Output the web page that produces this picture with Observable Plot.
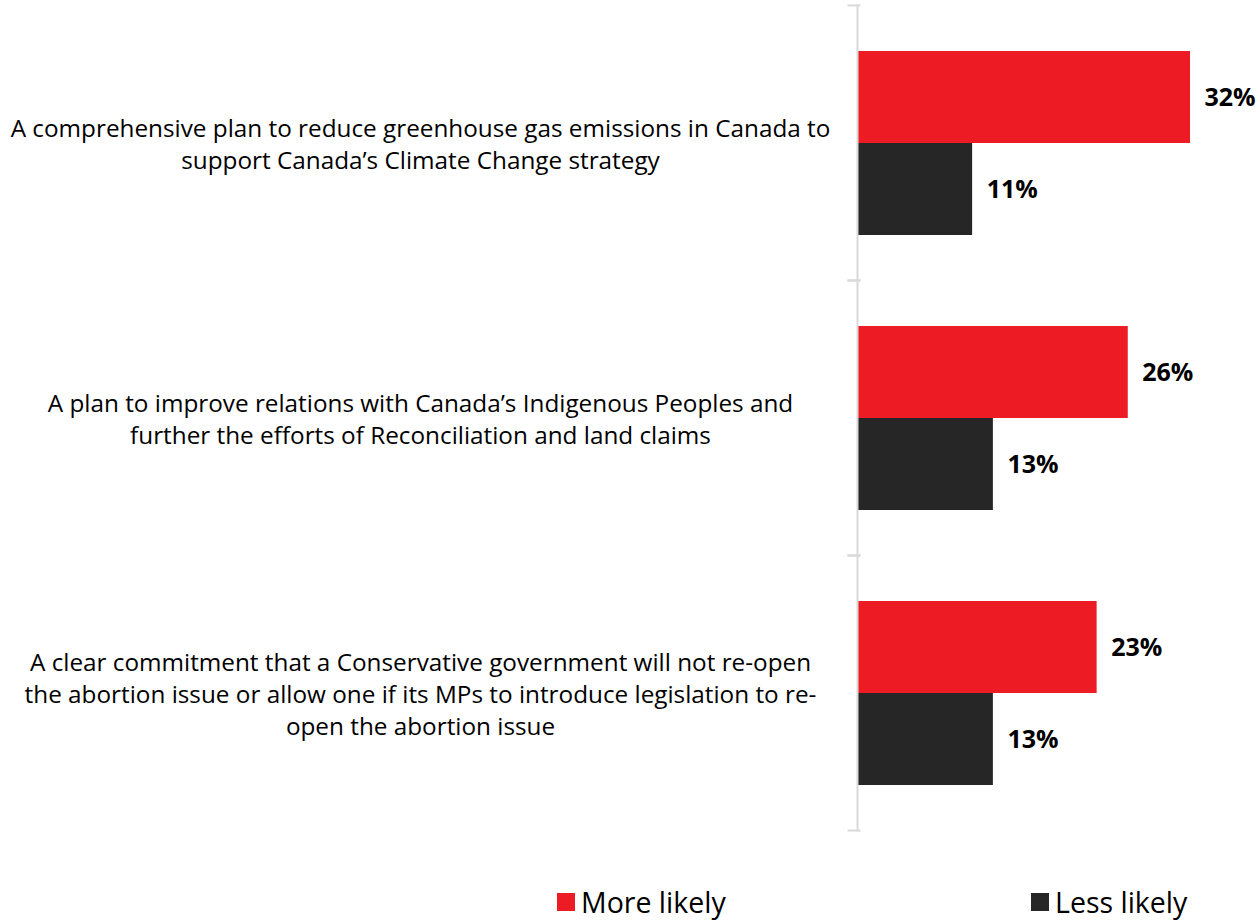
<!DOCTYPE html>
<html><head><meta charset="utf-8">
<script src="https://cdn.jsdelivr.net/npm/d3@7"></script>
<script src="https://cdn.jsdelivr.net/npm/@observablehq/plot@0.6"></script>
<style>
body{margin:0;background:#fff;font-family:"Open Sans",sans-serif;}
#legend{position:relative;width:1259px;height:71px;}
.item{position:absolute;top:33px;display:flex;align-items:center;font-size:28.5px;color:#000;}
.sw{width:18px;height:18px;margin-right:6px;}
</style></head><body>
<div id="chart"></div>
<div id="legend"></div>
<script>
const categories = [
  "A comprehensive plan to reduce greenhouse gas emissions in Canada to\nsupport Canada’s Climate Change strategy",
  "A plan to improve relations with Canada’s Indigenous Peoples and\nfurther the efforts of Reconciliation and land claims",
  "A clear commitment that a Conservative government will not re-open\nthe abortion issue or allow one if its MPs to introduce legislation to re-\nopen the abortion issue"
];
const series = ["More likely", "Less likely"];
const moreLikely = [32, 26, 23];
const lessLikely = [11, 13, 13];
const colors = ["#ED1C24", "#262626"];

const data = categories.flatMap((c, i) => [
  {category: c, series: series[0], value: moreLikely[i]},
  {category: c, series: series[1], value: lessLikely[i]}
]);

const chart = Plot.plot({
  width: 1259, height: 850,
  marginLeft: 858, marginRight: 0, marginTop: 5, marginBottom: 20,
  style: {fontFamily: "'Open Sans', sans-serif", fontSize: "22px", color: "#000", background: "#fff", overflow: "visible"},
  x: {domain: [0, 38.65], axis: null},
  fy: {domain: categories, padding: 0, axis: null},
  y: {domain: series, axis: null, paddingInner: 0, paddingOuter: 0.486},
  color: {domain: series, range: colors},
  marks: [
    Plot.barX(data, {fy: "category", y: "series", x: "value", fill: "series"}),
    Plot.text(data, {fy: "category", y: "series", x: "value", text: d => d.value + "%", textAnchor: "start", dx: 14, fontWeight: "bold", fontSize: 25, fill: "#000"}),
    Plot.text(categories, {fy: d => d, frameAnchor: "left", dx: -438, text: d => d, textAnchor: "middle", lineHeight: 1.32, fontSize: 24.3, fill: "#000"}),
    Plot.frame({anchor: "left", stroke: "#D9D9D9", strokeWidth: 2, insetLeft: -1}),
    Plot.frame({anchor: "top", stroke: "#D9D9D9", strokeWidth: 2, insetLeft: -10, insetRight: 400}),
    Plot.frame({anchor: "bottom", stroke: "#D9D9D9", strokeWidth: 2, insetLeft: -10, insetRight: 400})
  ]
});
document.getElementById("chart").appendChild(chart);

const legend = document.getElementById("legend");
const legendX = [557, 1031];
series.forEach((s, i) => {
  const item = document.createElement("div");
  item.className = "item";
  item.style.left = legendX[i] + "px";
  item.innerHTML = `<span class="sw" style="background:${colors[i]}"></span><span>${s}</span>`;
  legend.appendChild(item);
});
</script>
</body></html>
